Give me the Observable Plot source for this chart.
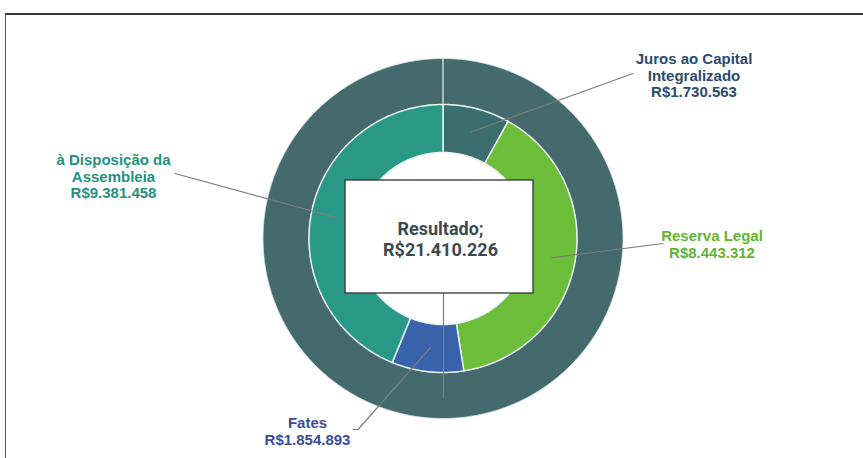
<!DOCTYPE html>
<html>
<head>
<meta charset="utf-8">
<script src="https://cdn.jsdelivr.net/npm/d3@7"></script>
<script src="https://cdn.jsdelivr.net/npm/@observablehq/plot@0.6"></script>
<style>
  html, body { margin: 0; padding: 0; background: #fff; }
  #wrap { position: relative; width: 863px; height: 458px; overflow: hidden; }
  #frame { position: absolute; left: 5px; top: 13px; right: -4px; bottom: -4px;
           border-top: 2px solid #3a3a3a; border-left: 1.5px solid #555; }
  #chart { position: absolute; left: 0; top: 0; }
</style>
</head>
<body>
<div id="wrap"><div id="frame"></div><div id="chart"></div></div>
<script>
// ---------- data ----------
const categories = ["Juros ao Capital Integralizado", "Reserva Legal", "Fates", "à Disposição da Assembleia"];
const labelLines = [["Juros ao Capital", "Integralizado"], ["Reserva Legal"], ["Fates"], ["à Disposição da", "Assembleia"]];
const values = [1730563, 8443312, 1854893, 9381458];
const totalName = "Resultado";
const totalValue = 21410226;

// ---------- styles / layout ----------
const sliceColors = ["#3d6e6f", "#6cbd3a", "#3862aa", "#2a9886"];
const labelColors = ["#2b4a6c", "#63b52e", "#3b4c9c", "#24917f"];
const outerColor = "#456a6d";
const W = 863, H = 458, cx = 442.5, cy = 238;
const rHole = 86, rInner = 134, rOuter = 180, rLeader = 110;
// label centres and leader elbows, relative to the donut centre (px)
const labelLayout = [
  {tx: 251, ty: -163, path: [[190, -165]]},
  {tx: 269, ty: 5.5, path: [[220, 5]]},
  {tx: -135.5, ty: 192.5, path: [[-85, 191], [-90, 191]]},
  {tx: -329.5, ty: -62, path: [[-268, -65]]}
];
const centerBox = {x1: -97.5, x2: 90.5, y1: -58, y2: 55};
const centerLeader = [[0.5, 55], [0.5, 159]];

// ---------- geometry helpers ----------
const fmt = v => "R$" + d3.format(",")(v).replace(/,/g, ".");
const pt = (a, r) => [r * Math.sin(a), -r * Math.cos(a)];
function ring(a0, a1, r0, r1) {
  const n = Math.max(2, Math.ceil((a1 - a0) / (Math.PI / 360)));
  const out = [];
  for (let i = 0; i <= n; i++) out.push(pt(a0 + (a1 - a0) * i / n, r1));
  for (let i = n; i >= 0; i--) out.push(pt(a0 + (a1 - a0) * i / n, r0));
  out.push(out[0]);
  return out;
}

const total = d3.sum(values);
let acc = 0;
const slices = values.map((v, i) => {
  const a0 = acc / total * 2 * Math.PI;
  acc += v;
  const a1 = acc / total * 2 * Math.PI;
  return {i, name: categories[i], value: v, a0, a1, mid: (a0 + a1) / 2};
});

const marks = [];
// outer ring (total)
marks.push(Plot.line(ring(0, 2 * Math.PI, rInner, rOuter), {
  x: d => d[0], y: d => d[1], fill: outerColor, stroke: "#dfe8e8", strokeWidth: 1, strokeOpacity: 0.8
}));
// inner ring slices
slices.forEach(s => {
  marks.push(Plot.line(ring(s.a0, s.a1, rHole, rInner), {
    x: d => d[0], y: d => d[1], fill: sliceColors[s.i], stroke: "#e9f3f1", strokeWidth: 1.5, strokeLinejoin: "round"
  }));
});
// leader lines
slices.forEach(s => {
  const pts = [pt(s.mid, rLeader), ...labelLayout[s.i].path];
  marks.push(Plot.line(pts, {x: d => d[0], y: d => d[1], stroke: "#7a7f80", strokeWidth: 1.2}));
});
marks.push(Plot.line(centerLeader, {x: d => d[0], y: d => d[1], stroke: "#7a7f80", strokeWidth: 1.2}));
// centre box
marks.push(Plot.rect([centerBox], {x1: "x1", x2: "x2", y1: "y1", y2: "y2", fill: "white", stroke: "#333", strokeWidth: 1.3}));
marks.push(Plot.text([{t: totalName + ";\n" + fmt(totalValue)}], {
  x: () => -2.5, y: () => 0, text: "t", fill: "#3a4a50", fontSize: 18, fontWeight: "bold",
  lineHeight: 1.2, fontFamily: "Roboto, 'Liberation Sans', sans-serif"
}));
// slice labels
marks.push(Plot.text(slices, {
  x: s => labelLayout[s.i].tx, y: s => labelLayout[s.i].ty,
  text: s => [...labelLines[s.i], fmt(s.value)].join("\n"),
  fill: s => labelColors[s.i], fontSize: 15, fontWeight: "bold", lineHeight: 1.1,
  fontFamily: "'Liberation Sans', Arial, sans-serif"
}));

const chart = Plot.plot({
  width: W, height: H, margin: 0,
  style: {background: "transparent"},
  x: {domain: [-cx, W - cx], range: [0, W], axis: null},
  y: {domain: [-cy, H - cy], range: [0, H], axis: null},
  color: {type: "identity"},
  marks
});
document.getElementById("chart").appendChild(chart);
</script>
</body>
</html>
